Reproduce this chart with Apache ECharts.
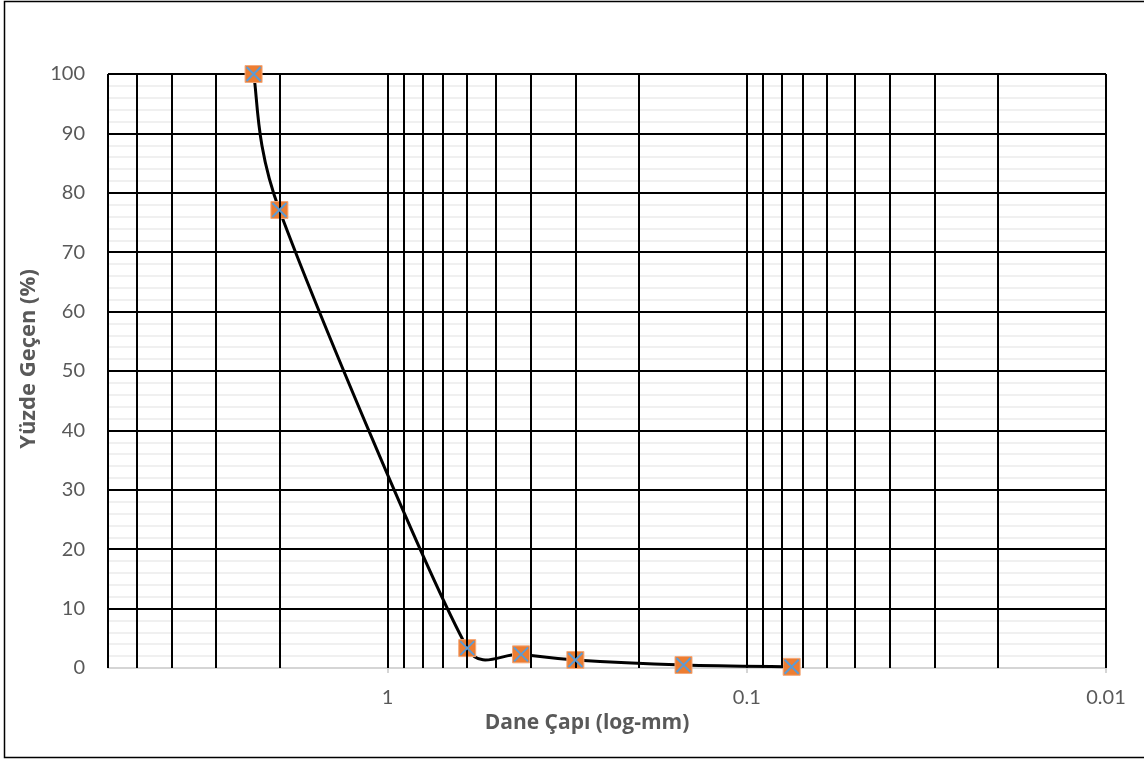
<!DOCTYPE html>
<html>
<head>
<meta charset="utf-8">
<script src="https://cdn.jsdelivr.net/npm/echarts@6/dist/echarts.min.js"></script>
<style>
  html, body { margin: 0; padding: 0; background: #fff; }
  #chart { width: 1144px; height: 760px; }
</style>
</head>
<body>
<div id="chart"></div>
<script>
// Sieve analysis: grain size (mm) vs. percent passing
const sieveSize = [2.36, 2.0, 0.6, 0.425, 0.3, 0.15, 0.075];
const passing   = [100, 77.1, 3.35, 2.3, 1.35, 0.5, 0.2];

// Log-cycle grid lines on the size axis
const sizeGridLines = [6, 5, 4, 3, 2, 1,
  0.9, 0.8, 0.7, 0.6, 0.5, 0.4, 0.3, 0.2, 0.1,
  0.09, 0.08, 0.07, 0.06, 0.05, 0.04, 0.03, 0.02, 0.01];
const sizeLabels = [1, 0.1, 0.01];

const FONT = 'Lato, "Liberation Sans", sans-serif';
const TITLE_FONT = '"Open Sans", Lato, sans-serif';
const TEXT = '#595959';

const points = sieveSize.map((s, i) => [s, passing[i]]);

// Smoothed curve: cubic Bezier per segment, tangent from neighbours (1/6),
// handle length limited to half of the segment.
function handle(a, b, segLen) {
  const vx = b[0] - a[0], vy = b[1] - a[1];
  const len = Math.hypot(vx, vy);
  if (len === 0) return [0, 0];
  const h = Math.min(len / 6, segLen / 2);
  return [vx / len * h, vy / len * h];
}

function renderSegment(params, api) {
  const i = params.dataIndex;
  if (i >= points.length - 1) return;
  const P = points.map(p => api.coord(p));
  const p0 = P[Math.max(i - 1, 0)], p1 = P[i], p2 = P[i + 1], p3 = P[Math.min(i + 2, P.length - 1)];
  const seg = Math.hypot(p2[0] - p1[0], p2[1] - p1[1]);
  const h1 = handle(p0, p2, seg);
  const h2 = handle(p1, p3, seg);
  return {
    type: 'bezierCurve',
    shape: {
      x1: p1[0], y1: p1[1], x2: p2[0], y2: p2[1],
      cpx1: p1[0] + h1[0], cpy1: p1[1] + h1[1],
      cpx2: p2[0] - h2[0], cpy2: p2[1] - h2[1]
    },
    style: { stroke: '#000', lineWidth: 3, fill: 'none' }
  };
}

const chart = echarts.init(document.getElementById('chart'), null, { renderer: 'canvas' });

chart.setOption({
  backgroundColor: '#fff',
  animation: false,
  graphic: [{
    type: 'rect',
    shape: { x: 4.5, y: 1.5, width: 1150, height: 756 },
    style: { fill: 'none', stroke: '#000', lineWidth: 1.5 },
    silent: true
  }],
  grid: { left: 108, right: 38, top: 74, bottom: 92 },
  xAxis: {
    type: 'log',
    logBase: 10,
    inverse: true,
    min: 0.01,
    max: 6,
    name: 'Dane Çapı (log-mm)',
    nameLocation: 'middle',
    nameGap: 38,
    nameTextStyle: {
      fontFamily: TITLE_FONT, fontSize: 21, fontWeight: 'bold', color: TEXT,
      padding: [0, 40, 0, 0]
    },
    axisLine: { show: true, lineStyle: { color: '#c8c8c8', width: 1.5 } },
    axisTick: { show: true, length: 5, customValues: sizeLabels, lineStyle: { color: '#c8c8c8', width: 1.5 } },
    axisLabel: {
      customValues: sizeLabels,
      margin: 20,
      fontFamily: FONT, fontSize: 20, color: TEXT,
      formatter: v => String(parseFloat(Number(v).toPrecision(6)))
    },
    splitLine: { show: false },
    minorSplitLine: { show: false }
  },
  yAxis: {
    type: 'value',
    min: 0,
    max: 100,
    interval: 10,
    name: 'Yüzde Geçen (%)',
    nameLocation: 'middle',
    nameRotate: 90,
    nameGap: 56,
    nameTextStyle: {
      fontFamily: TITLE_FONT, fontSize: 22, fontWeight: 'bold', color: TEXT,
      padding: [0, 0, 0, 24]
    },
    axisLine: { show: false },
    axisTick: { show: false },
    axisLabel: { margin: 23, fontFamily: FONT, fontSize: 20, color: TEXT },
    splitLine: { show: true, showMinLine: false, lineStyle: { color: '#000', width: 2 } },
    minorTick: { show: false, splitNumber: 5 },
    minorSplitLine: { show: true, lineStyle: { color: '#ebebeb', width: 1.5 } }
  },
  series: [
    {
      // vertical log-cycle grid
      type: 'line',
      data: [],
      silent: true,
      markLine: {
        silent: true,
        symbol: ['none', 'none'],
        label: { show: false },
        lineStyle: { color: '#000', width: 2, type: 'solid' },
        data: sizeGridLines.map(v => ({ xAxis: v }))
      }
    },
    {
      type: 'custom',
      renderItem: renderSegment,
      data: points,
      silent: true,
      clip: false,
      z: 3
    },
    {
      type: 'scatter',
      data: points,
      symbol: 'rect',
      symbolSize: 17,
      itemStyle: { color: '#ED7D31', borderColor: '#F4A97A', borderWidth: 1, opacity: 1 },
      z: 4
    },
    {
      type: 'scatter',
      data: points,
      symbol: 'path://M0,0L10,10M10,0L0,10',
      symbolSize: 14,
      itemStyle: { color: 'none', borderColor: '#5B9BD5', borderWidth: 2, opacity: 1 },
      z: 5
    }
  ]
});
</script>
</body>
</html>
